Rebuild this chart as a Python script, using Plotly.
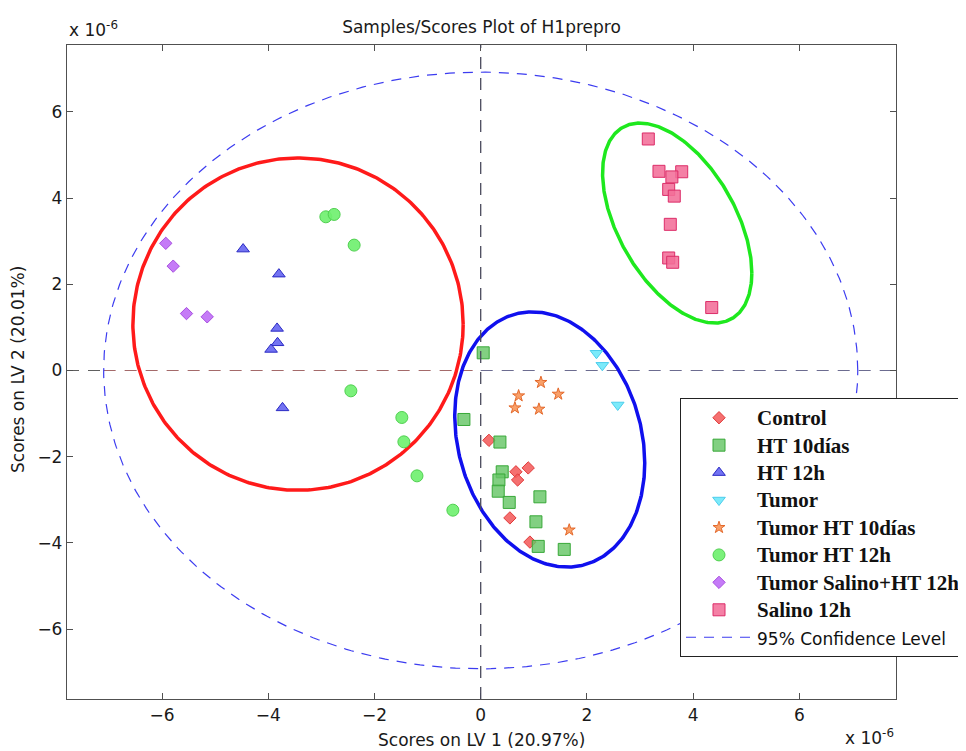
import numpy as np
import plotly.graph_objects as go

# ---------------- data (scores, units of 1e-6) ----------------
control_x = [0.155, 0.663, 0.895, 0.695, 0.55, 0.927]
control_y = [-1.62, -2.35, -2.26, -2.54, -3.42, -3.98]

ht10_x = [0.047, -0.316, 0.362, 0.405, 0.343, 0.33, 0.537, 1.115, 1.04, 1.083, 1.573]
ht10_y = [0.41, -1.136, -1.66, -2.35, -2.54, -2.80, -3.06, -2.93, -3.51, -4.08, -4.15]

ht12_x = [-4.474, -3.80, -3.834, -3.826, -3.947, -3.732]
ht12_y = [2.816, 2.235, 0.976, 0.642, 0.488, -0.867]

tumor_x = [2.18, 2.29, 2.58]
tumor_y = [0.40, 0.12, -0.80]

tumor_ht10_x = [1.134, 0.714, 0.644, 1.096, 1.46, 1.667]
tumor_ht10_y = [-0.277, -0.588, -0.867, -0.897, -0.549, -3.70]

tumor_ht12_x = [-2.916, -2.76, -2.383, -2.445, -1.485, -1.447, -1.20, -0.524]
tumor_ht12_y = [3.565, 3.62, 2.908, -0.472, -1.09, -1.655, -2.444, -3.24]

tumor_salino_x = [-5.93, -5.79, -5.54, -5.15]
tumor_salino_y = [2.95, 2.42, 1.32, 1.245]

salino_x = [3.156, 3.357, 3.785, 3.60, 3.54, 3.645, 3.57, 3.54, 3.615, 4.35]
salino_y = [5.37, 4.62, 4.61, 4.49, 4.20, 4.045, 3.39, 2.61, 2.51, 1.46]

group_names = ["Control", "HT 10días", "HT 12h", "Tumor", "Tumor HT 10días",
               "Tumor HT 12h", "Tumor Salino+HT 12h", "Salino 12h"]

tick_values = [-6, -4, -2, 0, 2, 4, 6]

# ellipses: centre x, centre y, var x, var y, cov xy
conf_ellipse = [0.0, 0.0, 50.41, 47.89, 0.0]
red_ellipse = [-3.44, 1.075, 9.67, 14.86, 0.0]
blue_ellipse = [1.30, -1.60, 3.20, 8.76, -0.975]
green_ellipse = [3.70, 3.42, 1.975, 5.38, -1.63]

x_range = [-7.79, 7.82]
y_range = [-7.62, 7.55]


def ellipse_path(p, n=400):
    cx, cy, sxx, syy, sxy = p
    L = np.linalg.cholesky(np.array([[sxx, sxy], [sxy, syy]]))
    t = np.linspace(0, 2 * np.pi, n)
    pts = L @ np.vstack([np.cos(t), np.sin(t)])
    return cx + pts[0], cy + pts[1]


fig = go.Figure()

# 95% confidence ellipse
ex, ey = ellipse_path(conf_ellipse)
fig.add_trace(go.Scatter(
    x=ex, y=ey, mode="lines",
    line=dict(color="#3c3cf0", width=1.2, dash="10px,8px"),
    name='<span style="font-family:DejaVu Sans;font-weight:normal;font-size:17px">95% Confidence Level</span>',
    legendrank=2000, hoverinfo="skip"))

for p, col in [(red_ellipse, "#ff1a1a"), (blue_ellipse, "#1010ee"), (green_ellipse, "#1ee81e")]:
    ex, ey = ellipse_path(p)
    fig.add_trace(go.Scatter(x=ex, y=ey, mode="lines", line=dict(color=col, width=3.5),
                             showlegend=False, hoverinfo="skip"))

series = [
    (control_x, control_y, "diamond", 9.5, "rgba(244,96,96,0.9)", "#e03a3a"),
    (ht10_x, ht10_y, "square", 12, "rgba(102,198,102,0.82)", "#38a838"),
    (ht12_x, ht12_y, "triangle-up", 11, "rgba(96,96,240,0.88)", "#2a2ac4"),
    (tumor_x, tumor_y, "triangle-down", 11, "rgba(112,232,250,0.92)", "#4ccdec"),
    (tumor_ht10_x, tumor_ht10_y, "star", 9, "rgba(248,152,92,0.92)", "#e4682a"),
    (tumor_ht12_x, tumor_ht12_y, "circle", 12, "rgba(112,240,112,0.92)", "#50d050"),
    (tumor_salino_x, tumor_salino_y, "diamond", 9.5, "rgba(192,112,246,0.92)", "#a64ce0"),
    (salino_x, salino_y, "square", 12, "rgba(242,110,152,0.88)", "#dc2c68"),
]

for name, (xs, ys, sym, size, fill, edge) in zip(group_names, series):
    fig.add_trace(go.Scatter(
        x=xs, y=ys, mode="markers",
        marker=dict(symbol=sym, size=size, color=fill, line=dict(color=edge, width=1)),
        name=f'<span style="font-size:21px">{name}</span>'))

# plot geometry (pixels); the page body adds an 8 px offset
OFF = 8
W, H = 966 - OFF, 751 - OFF
ml, mr, mt, mb = 67 - OFF, 70, 45 - OFF, 52
pw, ph = W - ml - mr, H - mt - mb

shapes = [
    dict(type="line", xref="x", yref="y", x0=x_range[0], x1=-7.1, y0=0, y1=0,
         line=dict(color="#606060", width=1.2, dash="12px,9px"), layer="below"),
    dict(type="line", xref="x", yref="y", x0=-7.1, x1=0, y0=0, y1=0,
         line=dict(color="#a46a6a", width=1.2, dash="12px,9px"), layer="below"),
    dict(type="line", xref="x", yref="y", x0=0, x1=x_range[1], y0=0, y1=0,
         line=dict(color="#6c6c90", width=1.2, dash="12px,9px"), layer="below"),
    dict(type="line", xref="x", yref="y", x0=0, x1=0, y0=y_range[0], y1=y_range[1],
         line=dict(color="#4a4a5c", width=1.3, dash="12px,9px"), layer="above"),
]

axis_common = dict(
    tickvals=tick_values, ticks="inside", ticklen=6, tickwidth=1.2, tickcolor="#505050",
    showline=True, linecolor="#505050", linewidth=1.3, mirror="ticks",
    showgrid=False, zeroline=False, tickfont=dict(size=17, color="#1a1a1a"))

annotations = [
    dict(text="x 10<sup>-6</sup>", xref="paper", yref="paper", x=0, y=1,
         xanchor="left", yanchor="bottom", yshift=3, showarrow=False,
         font=dict(size=17, color="#1a1a1a")),
    dict(text="x 10<sup>-6</sup>", xref="paper", yref="paper", x=1, y=-(mb - 1) / ph,
         xanchor="right", yanchor="bottom", showarrow=False,
         font=dict(size=17, color="#1a1a1a")),
    dict(text="Scores on LV 1 (20.97%)", xref="paper", yref="paper", x=0.5,
         y=-(740 - OFF - (mt + ph)) / ph, xanchor="center", yanchor="middle", showarrow=False,
         font=dict(size=17, color="#1a1a1a")),
    dict(text="Scores on LV 2 (20.01%)", xref="paper", yref="paper", x=(18 - OFF - ml) / pw,
         y=(mt + ph - (370 - OFF)) / ph, xanchor="center", yanchor="middle", textangle=-90,
         showarrow=False, font=dict(size=17, color="#1a1a1a")),
]

fig.update_layout(
    width=W, height=H,
    margin=dict(l=ml, r=mr, t=mt, b=mb, autoexpand=False),
    paper_bgcolor="white", plot_bgcolor="white",
    font=dict(family="DejaVu Sans", size=17, color="#1a1a1a"),
    title=dict(text="Samples/Scores Plot of H1prepro", x=(ml + pw / 2) / W, xanchor="center",
               y=1 - (27 - OFF) / H, yanchor="middle", font=dict(size=17, color="#1a1a1a")),
    xaxis=dict(range=x_range, **axis_common),
    yaxis=dict(range=y_range, **axis_common),
    legend=dict(x=(680 - OFF - ml) / pw, xanchor="left", y=(mt + ph - (398 - OFF)) / ph,
                yanchor="top", bgcolor="white", bordercolor="#222222", borderwidth=1,
                font=dict(family="Liberation Serif", size=18.8, color="#111111", weight="bold"),
                itemwidth=66, tracegroupgap=0),
    shapes=shapes, annotations=annotations,
    showlegend=True,
)

fig.write_html("out.html")
